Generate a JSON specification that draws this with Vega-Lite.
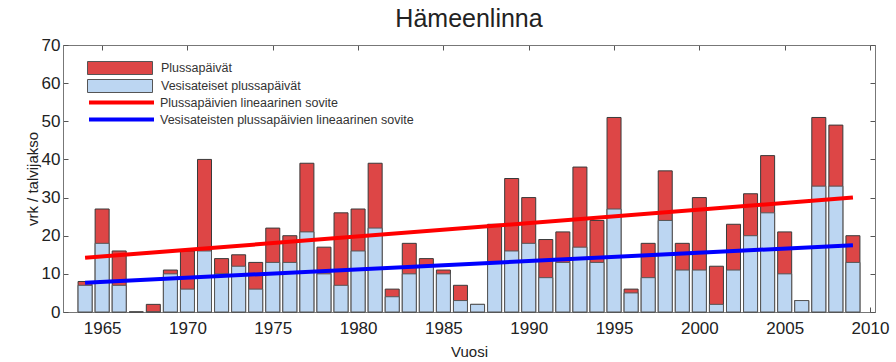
{
  "$schema": "https://vega.github.io/schema/vega-lite/v6.json",
  "width": 812,
  "height": 267,
  "autosize": "none",
  "padding": {"left": 63, "top": 45, "right": 21, "bottom": 50},
  "background": "white",
  "title": {"text": "Hämeenlinna", "fontSize": 25, "font": "Liberation Sans", "fontWeight": "normal", "color": "#222", "offset": 4},
  "config": {
    "font": "Liberation Sans",
    "view": {"stroke": "#777", "strokeWidth": 1},
    "axis": {"domainColor": "#777", "tickColor": "#555", "labelColor": "#222", "titleColor": "#222", "labelFont": "Liberation Sans", "titleFont": "Liberation Sans", "labelFontSize": 17, "titleFontSize": 15, "titleFontWeight": "normal", "grid": false}
  },
  "datasets": {
    "days": [
      {"year": 1964, "total": 8, "rain": 7},
      {"year": 1965, "total": 27, "rain": 18},
      {"year": 1966, "total": 16, "rain": 7},
      {"year": 1967, "total": 0, "rain": 0},
      {"year": 1968, "total": 2, "rain": 0},
      {"year": 1969, "total": 11, "rain": 10},
      {"year": 1970, "total": 16, "rain": 6},
      {"year": 1971, "total": 40, "rain": 16},
      {"year": 1972, "total": 14, "rain": 10},
      {"year": 1973, "total": 15, "rain": 12},
      {"year": 1974, "total": 13, "rain": 6},
      {"year": 1975, "total": 22, "rain": 13},
      {"year": 1976, "total": 20, "rain": 13},
      {"year": 1977, "total": 39, "rain": 21},
      {"year": 1978, "total": 17, "rain": 10},
      {"year": 1979, "total": 26, "rain": 7},
      {"year": 1980, "total": 27, "rain": 16},
      {"year": 1981, "total": 39, "rain": 22},
      {"year": 1982, "total": 6, "rain": 4},
      {"year": 1983, "total": 18, "rain": 10},
      {"year": 1984, "total": 14, "rain": 12},
      {"year": 1985, "total": 11, "rain": 10},
      {"year": 1986, "total": 7, "rain": 3},
      {"year": 1987, "total": 2, "rain": 2},
      {"year": 1988, "total": 23, "rain": 13},
      {"year": 1989, "total": 35, "rain": 16},
      {"year": 1990, "total": 30, "rain": 18},
      {"year": 1991, "total": 19, "rain": 9},
      {"year": 1992, "total": 21, "rain": 13},
      {"year": 1993, "total": 38, "rain": 17},
      {"year": 1994, "total": 24, "rain": 13},
      {"year": 1995, "total": 51, "rain": 27},
      {"year": 1996, "total": 6, "rain": 5},
      {"year": 1997, "total": 18, "rain": 9},
      {"year": 1998, "total": 37, "rain": 24},
      {"year": 1999, "total": 18, "rain": 11},
      {"year": 2000, "total": 30, "rain": 11},
      {"year": 2001, "total": 12, "rain": 2},
      {"year": 2002, "total": 23, "rain": 11},
      {"year": 2003, "total": 31, "rain": 20},
      {"year": 2004, "total": 41, "rain": 26},
      {"year": 2005, "total": 21, "rain": 10},
      {"year": 2006, "total": 3, "rain": 3},
      {"year": 2007, "total": 51, "rain": 33},
      {"year": 2008, "total": 49, "rain": 33},
      {"year": 2009, "total": 20, "rain": 13}
    ],
    "fits": [
      {"series": "Plussapäivien lineaarinen sovite", "year": 1964, "value": 14.2},
      {"series": "Plussapäivien lineaarinen sovite", "year": 2009, "value": 30.0},
      {"series": "Vesisateisten plussapäivien lineaarinen sovite", "year": 1964, "value": 7.7},
      {"series": "Vesisateisten plussapäivien lineaarinen sovite", "year": 2009, "value": 17.5}
    ]
  },
  "resolve": {"axis": {"x": "independent", "y": "independent"}},
  "layer": [
    {
      "data": {"name": "days"},
      "mark": {"type": "bar", "size": 14, "stroke": "#3a3a3a", "strokeWidth": 1},
      "encoding": {
        "x": {"field": "year", "type": "quantitative", "scale": {"domain": [1963, 2010], "nice": false, "zero": false},
              "axis": {"orient": "bottom", "values": [1965, 1970, 1975, 1980, 1985, 1990, 1995, 2000, 2005, 2010], "format": "d", "tickSize": -5, "labelPadding": 13, "title": "Vuosi", "titlePadding": 8}},
        "y": {"field": "total", "type": "quantitative", "scale": {"domain": [0, 70], "nice": false},
              "axis": {"orient": "left", "values": [0, 10, 20, 30, 40, 50, 60, 70], "tickSize": -5, "labelPadding": 8, "title": "vrk / talvijakso", "titlePadding": 1}},
        "color": {"datum": "Plussapäivät", "type": "nominal",
                  "scale": {"domain": ["Plussapäivät", "Vesisateiset plussapäivät"], "range": ["#dd4646", "#bcd6f2"]},
                  "legend": {"orient": "none", "legendX": 50, "legendY": 16, "title": null, "symbolType": "M-5,-1H5V1H-5Z", "symbolSize": 169, "symbolStrokeColor": "#444", "symbolStrokeWidth": 1, "symbolOpacity": 1, "labelOffset": 34, "labelFontSize": 12.5, "labelLimit": 500, "labelColor": "#333", "rowPadding": 0, "labelFont": "Liberation Sans"}}
      }
    },
    {
      "data": {"name": "days"},
      "mark": {"type": "bar", "size": 14, "stroke": "#555", "strokeWidth": 1},
      "encoding": {
        "x": {"field": "year", "type": "quantitative",
              "axis": {"orient": "top", "values": [1965, 1970, 1975, 1980, 1985, 1990, 1995, 2000, 2005, 2010], "labels": false, "tickSize": -5, "title": null}},
        "y": {"field": "rain", "type": "quantitative",
              "axis": {"orient": "right", "values": [0, 10, 20, 30, 40, 50, 60, 70], "labels": false, "tickSize": -5, "title": null}},
        "color": {"datum": "Vesisateiset plussapäivät", "type": "nominal"}
      }
    },
    {
      "data": {"name": "fits"},
      "mark": {"type": "line", "strokeWidth": 4},
      "encoding": {
        "x": {"field": "year", "type": "quantitative", "axis": null},
        "y": {"field": "value", "type": "quantitative", "axis": null},
        "stroke": {"field": "series", "type": "nominal",
                   "scale": {"domain": ["Plussapäivien lineaarinen sovite", "Vesisateisten plussapäivien lineaarinen sovite"], "range": ["#ff0000", "#0000ff"]},
                   "legend": {"orient": "none", "legendX": 50, "legendY": 49, "title": null, "symbolType": "M-5,0H5", "symbolSize": 169, "symbolStrokeWidth": 4, "labelOffset": 30, "labelFontSize": 12.5, "labelLimit": 500, "labelColor": "#333", "rowPadding": 0, "labelFont": "Liberation Sans"}}
      }
    }
  ]
}
